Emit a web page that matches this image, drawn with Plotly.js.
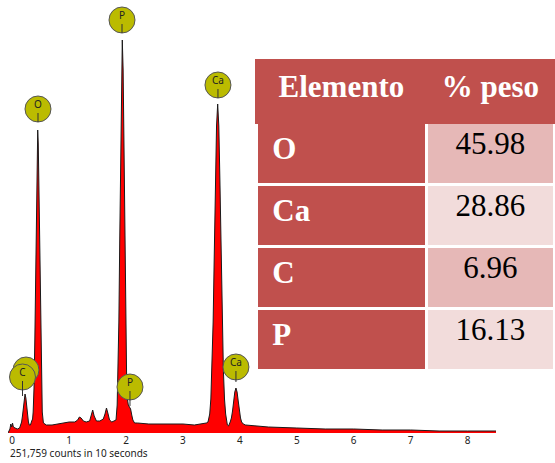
<!DOCTYPE html>
<html>
<head>
<meta charset="utf-8">
<script src="https://cdn.plot.ly/plotly-3.0.1.min.js"></script>
<style>html,body{margin:0;padding:0;background:#fff;}#chart{width:555px;height:463px;}</style>
</head>
<body>
<div id="chart"></div>
<script>
// Spectrum (energy in keV, counts in arbitrary units)
const energy = [-0.074,-0.06,-0.04,-0.025,-0.01,0.005,0.02,0.05,0.09,0.13,0.155,0.165,0.18,0.195,0.21,0.225,0.24,0.255,0.27,0.285,0.30,0.32,0.343,0.358,0.368,0.383,0.398,0.408,0.418,0.428,0.438,0.448,0.458,0.468,0.478,0.488,0.498,0.513,0.528,0.548,0.6,0.7,0.8,0.9,1.0,1.1,1.15,1.18,1.21,1.25,1.3,1.36,1.39,1.414,1.44,1.48,1.54,1.6,1.63,1.656,1.68,1.71,1.75,1.79,1.824,1.844,1.859,1.874,1.889,1.904,1.919,1.934,1.949,1.964,1.979,1.994,2.009,2.024,2.04,2.06,2.08,2.10,2.12,2.15,2.2,2.4,2.6,2.8,3.0,3.2,3.35,3.41,3.44,3.47,3.49,3.51,3.53,3.55,3.57,3.59,3.61,3.63,3.65,3.67,3.69,3.71,3.73,3.75,3.78,3.80,3.83,3.851,3.871,3.891,3.911,3.931,3.951,3.971,3.991,4.011,4.031,4.06,4.1,4.3,4.5,5.0,5.5,6.0,6.5,7.0,7.5,8.0,8.5];
const counts = [0,2,4,9,6,10,6,5,4,5,9,11,17,26,35,39,35,26,17,11,8,8,12,14,21,45,95,143,198,251,289,303,289,251,198,143,95,45,21,10,8,8,9,10,11,11,13,16,15,12,11,12,18,23,17,12,12,14,19,25,20,13,11,12,13,28,57,111,192,285,363,393,363,285,192,111,61,34,28,26,24,18,13,10,10,9,9,9,9,8,9,10,11,19,34,63,111,178,250,307,329,307,250,178,111,63,34,19,8,7,11,15,22,32,41,45,41,32,22,15,11,9,8,7,6,5,4,4,3,3,2,2,2];

// Peak labels
const labelNames = ['', 'C', 'O', 'P', 'P', 'Ca', 'Ca'];
const labelE = [0.242, 0.181, 0.453, 1.929, 2.069, 3.615, 3.931];
const labelH = [63, 56, 324, 413, 46, 348, 66];
const leaderTop = [null, 52, 320, 409, 42, 344, 62];
const leaderBottom = [null, 37, 311, 400, 27, 335, 51];

// Axis ticks
const tickValues = [0, 1, 2, 3, 4, 5, 6, 7, 8];
const tickLabels = ['0', '1', '2', '3', '4', '5', '6', '7', '8'];

// Table
const tableHeader = ['Elemento', '% peso'];
const elements = ['O', 'Ca', 'C', 'P'];
const weights = ['45.98', '28.86', '6.96', '16.13'];

const countsNote = '251,759 counts in 10 seconds';

const W = 555, H = 463, B = 30, PH = H - B;

const lx = [], ly = [];
labelE.forEach((e, i) => {
  if (leaderTop[i] !== null) { lx.push(e, e, null); ly.push(leaderTop[i], leaderBottom[i], null); }
});

const traces = [
  {
    type: 'scatter', mode: 'lines', x: energy, y: counts,
    fill: 'tozeroy', fillcolor: '#ff0000',
    line: {color: '#1a1a1a', width: 1}, hoverinfo: 'skip'
  },
  {
    type: 'scatter', mode: 'markers', x: labelE, y: labelH, cliponaxis: false,
    marker: {size: 26, color: '#bbbb00', line: {color: '#555555', width: 1}}, hoverinfo: 'skip'
  },
  {
    type: 'scatter', mode: 'lines', x: lx, y: ly, cliponaxis: false,
    line: {color: '#333333', width: 1}, hoverinfo: 'skip'
  },
  {
    type: 'scatter', mode: 'text', x: labelE, y: labelH.map(v => v + 4), text: labelNames, cliponaxis: false,
    textposition: 'middle center',
    textfont: {family: 'Noto Sans, sans-serif', size: 10, color: '#222222'}, hoverinfo: 'skip'
  },
  {
    type: 'table',
    domain: {x: [256.5 / W, 1], y: [0.05, (PH - 60.5) / PH]},
    columnwidth: [170, 128.5],
    header: {
      values: tableHeader.map(t => '<b>' + t + '</b>'),
      height: 62, align: 'center',
      fill: {color: '#c0504d'},
      line: {color: '#c0504d', width: 3},
      font: {family: 'Liberation Serif, Times New Roman, serif', size: 31, color: '#ffffff'}
    },
    cells: {
      values: [elements.map(t => '<b>\u00A0' + t + '</b>'), weights],
      height: 62, align: ['left', 'center'],
      fill: {color: [['#c0504d', '#c0504d', '#c0504d', '#c0504d'], ['#e6b8b7', '#f2dcdb', '#e6b8b7', '#f2dcdb']]},
      line: {color: '#ffffff', width: 3},
      font: {family: 'Liberation Serif, Times New Roman, serif', size: 31, color: [['#ffffff'], ['#000000']]}
    }
  }
];

const layout = {
  width: W, height: H,
  margin: {l: 0, r: 0, t: 0, b: B},
  paper_bgcolor: '#ffffff', plot_bgcolor: '#ffffff',
  showlegend: false,
  xaxis: {
    domain: [8 / W, 496 / W], range: [-0.074, 8.5],
    tickvals: tickValues, ticktext: tickLabels, ticks: '',
    showgrid: false, zeroline: false, showline: false,
    tickfont: {family: 'Noto Sans, sans-serif', size: 10, color: '#222222'}
  },
  yaxis: {range: [0, PH], visible: false, fixedrange: true},
  annotations: [{
    text: countsNote, xref: 'paper', yref: 'paper',
    x: 8 / W, xanchor: 'left', y: (PH - 453) / PH, yanchor: 'middle',
    showarrow: false, font: {family: 'Noto Sans, sans-serif', size: 10, color: '#222222'}
  }]
};

Plotly.newPlot('chart', traces, layout, {staticPlot: true, displayModeBar: false});
</script>
</body>
</html>
